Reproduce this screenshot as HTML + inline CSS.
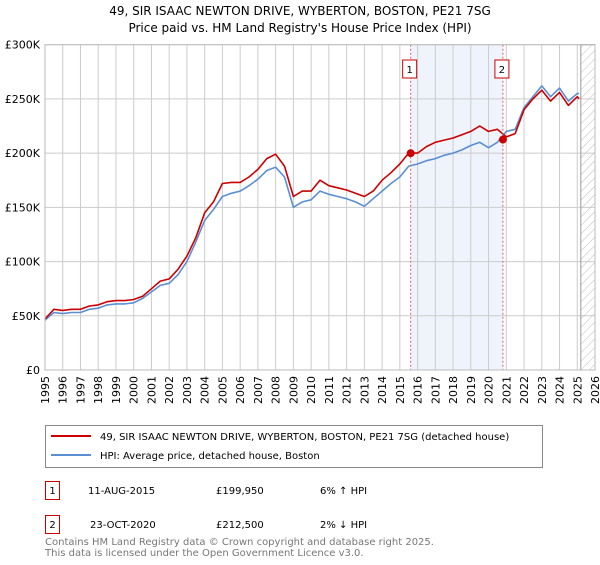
<!DOCTYPE html>
<html><head><meta charset="utf-8"><style>
body{margin:0;background:#fff;font-family:"Liberation Sans","DejaVu Sans",sans-serif;}
svg text{font-family:"DejaVu Sans","Liberation Sans",sans-serif;}
</style></head><body>
<svg id="chart" width="600" height="560">
<defs><pattern id="hatch" width="6" height="6" patternUnits="userSpaceOnUse" patternTransform="rotate(45)"><line x1="0" y1="0" x2="0" y2="6" stroke="#bbb" stroke-width="1"/></pattern></defs>
<text x="300" y="15" text-anchor="middle" font-size="12" fill="#000">49, SIR ISAAC NEWTON DRIVE, WYBERTON, BOSTON, PE21 7SG</text>
<text x="300" y="32" text-anchor="middle" font-size="12" fill="#000">Price paid vs. HM Land Registry's House Price Index (HPI)</text>
<g id="grid"></g><g id="marks"></g><g id="axes"></g>
<rect x="45.5" y="425.5" width="497" height="42" fill="#fff" stroke="#888"/>
<line x1="51" y1="436" x2="91" y2="436" stroke="#cc0000" stroke-width="2"/>
<text x="100" y="440" font-size="10">49, SIR ISAAC NEWTON DRIVE, WYBERTON, BOSTON, PE21 7SG (detached house)</text>
<line x1="51" y1="455" x2="91" y2="455" stroke="#5b8fd4" stroke-width="2"/>
<text x="100" y="459" font-size="10">HPI: Average price, detached house, Boston</text>
<rect x="45.5" y="481.5" width="14" height="18" fill="none" stroke="#cc0000"/>
<text x="52.5" y="494" text-anchor="middle" font-size="10">1</text>
<text x="88" y="494" font-size="10">11-AUG-2015</text>
<text x="216" y="494" font-size="10">£199,950</text>
<text x="320" y="494" font-size="10">6% ↑ HPI</text>
<rect x="45.5" y="515.5" width="14" height="18" fill="none" stroke="#cc0000"/>
<text x="52.5" y="528" text-anchor="middle" font-size="10">2</text>
<text x="90" y="528" font-size="10">23-OCT-2020</text>
<text x="216" y="528" font-size="10">£212,500</text>
<text x="320" y="528" font-size="10">2% ↓ HPI</text>
<text x="45" y="545" font-size="10" fill="#777">Contains HM Land Registry data © Crown copyright and database right 2025.</text>
<text x="45" y="556" font-size="10" fill="#777">This data is licensed under the Open Government Licence v3.0.</text>
</svg>
<script>
const years=[1995,1995.5,1996,1996.5,1997,1997.5,1998,1998.5,1999,1999.5,2000,2000.5,2001,2001.5,2002,2002.5,2003,2003.5,2004,2004.5,2005,2005.5,2006,2006.5,2007,2007.5,2008,2008.5,2009,2009.5,2010,2010.5,2011,2011.5,2012,2012.5,2013,2013.5,2014,2014.5,2015,2015.5,2016,2016.5,2017,2017.5,2018,2018.5,2019,2019.5,2020,2020.5,2021,2021.5,2022,2022.5,2023,2023.5,2024,2024.5,2025,2025.1];
const hpiValues=[46,53,52,53,53,56,57,60,61,61,62,66,72,78,80,88,100,118,138,148,160,163,165,170,176,184,187,178,150,155,157,165,162,160,158,155,151,158,165,172,178,188,190,193,195,198,200,203,207,210,205,210,220,222,242,252,262,252,260,248,255,255];
const priceValues=[47,56,55,56,56,59,60,63,64,64,65,68,75,82,84,93,105,122,145,155,172,173,173,178,185,195,199,188,160,165,165,175,170,168,166,163,160,165,175,182,190,200,200,206,210,212,214,217,220,225,220,222,215,218,240,250,258,248,256,244,252,250];
const sales=[{t:2015.61,v:199.95,label:"1"},{t:2020.81,v:212.5,label:"2"}];
const yTicks=[0,50,100,150,200,250,300];
const yTickLabels=["£0","£50K","£100K","£150K","£200K","£250K","£300K"];
const xTicks=[1995,1996,1997,1998,1999,2000,2001,2002,2003,2004,2005,2006,2007,2008,2009,2010,2011,2012,2013,2014,2015,2016,2017,2018,2019,2020,2021,2022,2023,2024,2025,2026];
const X0=45,X1=595,Y0=370,Y1=44.7;
const xs=t=>X0+(t-1995)/(2026-1995)*(X1-X0);
const ys=v=>Y0-v/300*(Y0-Y1);
const NS="http://www.w3.org/2000/svg";
function mk(parent,tag,attrs){const e=document.createElementNS(NS,tag);for(const k in attrs)e.setAttribute(k,attrs[k]);parent.appendChild(e);return e;}
const grid=document.getElementById('grid'),marks=document.getElementById('marks'),axes=document.getElementById('axes');
let r=mk(grid,'rect',{x:xs(sales[0].t),y:Y1,width:xs(sales[1].t)-xs(sales[0].t),height:Y0-Y1,fill:'#eef3fc'});


xTicks.forEach(t=>{const l=mk(grid,'line',{x1:xs(t),x2:xs(t),y1:Y1,y2:Y0,stroke:'#ccc'});


const tx=mk(axes,'text',{x:0,y:0,'font-size':11,'text-anchor':'end',transform:`translate(${xs(t)+4},${Y0+6}) rotate(-90)`});tx.textContent=t;

});
yTicks.forEach((v,i)=>{const l=mk(grid,'line',{x1:X0,x2:X1,y1:ys(v),y2:ys(v),stroke:'#ccc'});


const tx=mk(axes,'text',{x:X0-5,y:ys(v)+4,'font-size':11,'text-anchor':'end'});tx.textContent=yTickLabels[i];

});
const h=mk(grid,'rect',{x:xs(2025.2),y:Y1,width:X1-xs(2025.2),height:Y0-Y1,fill:'url(#hatch)',stroke:'#999'});


const ax=mk(axes,'rect',{x:X0,y:Y1,width:X1-X0,height:Y0-Y1,fill:'none',stroke:'#bbb'});


function line(vals,color,name){const d=vals.map((v,i)=>(i?'L':'M')+xs(years[i]).toFixed(1)+','+ys(v).toFixed(1)).join('');const p=mk(marks,'path',{d,fill:'none',stroke:color,'stroke-width':1.6,'stroke-linejoin':'round'});

}
line(hpiValues,'#5b8fd4','hpi-line');
line(priceValues,'#cc0000','price-paid-line');
sales.forEach(s=>{const l=mk(marks,'line',{x1:xs(s.t),x2:xs(s.t),y1:Y1,y2:Y0,stroke:'#e06060','stroke-dasharray':'2,2'});


const c=mk(marks,'circle',{cx:xs(s.t),cy:ys(s.v),r:4,fill:'#cc0000'});


const b=mk(marks,'rect',{x:xs(s.t)-8,y:60,width:14,height:18,fill:'#fff',stroke:'#cc0000'});


const tx=mk(marks,'text',{x:xs(s.t)-1,y:73,'font-size':10,'text-anchor':'middle'});tx.textContent=s.label;

});
</script>
</body></html>
